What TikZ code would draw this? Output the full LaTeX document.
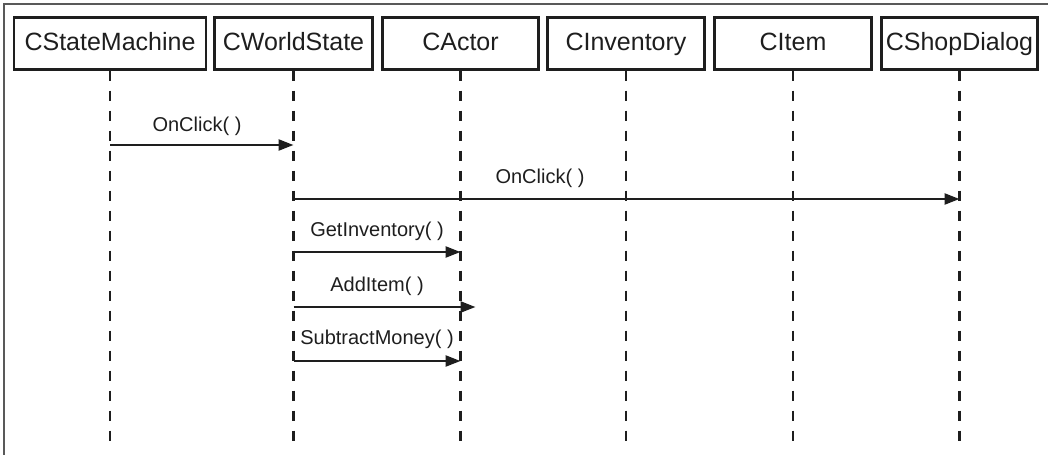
\documentclass[tikz,border=0pt]{standalone}
\usepackage{fontspec}
\setmainfont{Liberation Sans}
\usetikzlibrary{arrows.meta}
\definecolor{ink}{HTML}{1E1E1E}
\tikzset{
  classbox/.style={draw=ink, line width=2.4pt, minimum height=52pt, inner sep=0pt,
    text height=18pt, text depth=5pt,
    font=\fontsize{25}{30}\selectfont, text=ink},
  lifeline/.style={draw=ink, line width=2.3pt, dash pattern=on 10pt off 10pt},
  msg/.style={draw=ink, line width=2.4pt, -{Triangle[length=15pt,width=11pt]}},
  msglabel/.style={font=\fontsize{20}{24}\selectfont, text=ink, inner sep=0pt,
    text height=14pt, text depth=4pt},
  frame/.style={draw=black!65, line width=1.6pt}
}
\begin{document}
\begin{tikzpicture}[x=1pt,y=-1pt]
\useasboundingbox (0,0) rectangle (1048,455);
% frame (top and left edges)
\draw[frame] (1048,4) -- (4,4) -- (4,455);
% class boxes
\node[classbox, minimum width=192pt] (sm) at (110,43.5) {CStateMachine};
\node[classbox, minimum width=158pt] (ws) at (293.5,43.5) {CWorldState};
\node[classbox, minimum width=156pt] (ac) at (460.5,43.5) {CActor};
\node[classbox, minimum width=157pt] (inv) at (626,43.5) {CInventory};
\node[classbox, minimum width=157pt] (it) at (793,43.5) {CItem};
\node[classbox, minimum width=156pt] (sd) at (959.5,43.5) {CShopDialog};
% lifeline ends
\foreach \n in {sm,ws,ac,inv,it,sd}{
  \coordinate (\n-end) at (\n.south |- 0,441);
  \draw[lifeline] (\n.south) -- (\n-end);
}
% message endpoints
\coordinate (m1a) at (sm.south |- 0,145);
\coordinate (m1b) at (ws.south |- 0,145);
\coordinate (m2a) at (ws.south |- 0,199);
\coordinate (m2b) at (sd.south |- 0,199);
\coordinate (m3a) at (ws.south |- 0,252);
\coordinate (m3b) at (ac.south |- 0,252);
\coordinate (m4a) at (ws.south |- 0,307);
\coordinate (m4b) at ([xshift=15pt]ac.south |- 0,307);
\coordinate (m5a) at (ws.south |- 0,361);
\coordinate (m5b) at (ac.south |- 0,361);
% messages
\draw[msg] (m1a) -- (m1b);
\draw[msg] (m2a) -- (m2b);
\draw[msg] (m3a) -- (m3b);
\draw[msg] (m4a) -- (m4b);
\draw[msg] (m5a) -- (m5b);
% labels
\node[msglabel] (l1) at (197,126) {OnClick( )};
\node[msglabel] (l2) at (540,178) {OnClick( )};
\node[msglabel] (l3) at (377,231) {GetInventory( )};
\node[msglabel] (l4) at (377,286) {AddItem( )};
\node[msglabel] (l5) at (377,339) {SubtractMoney( )};
\end{tikzpicture}
\end{document}
